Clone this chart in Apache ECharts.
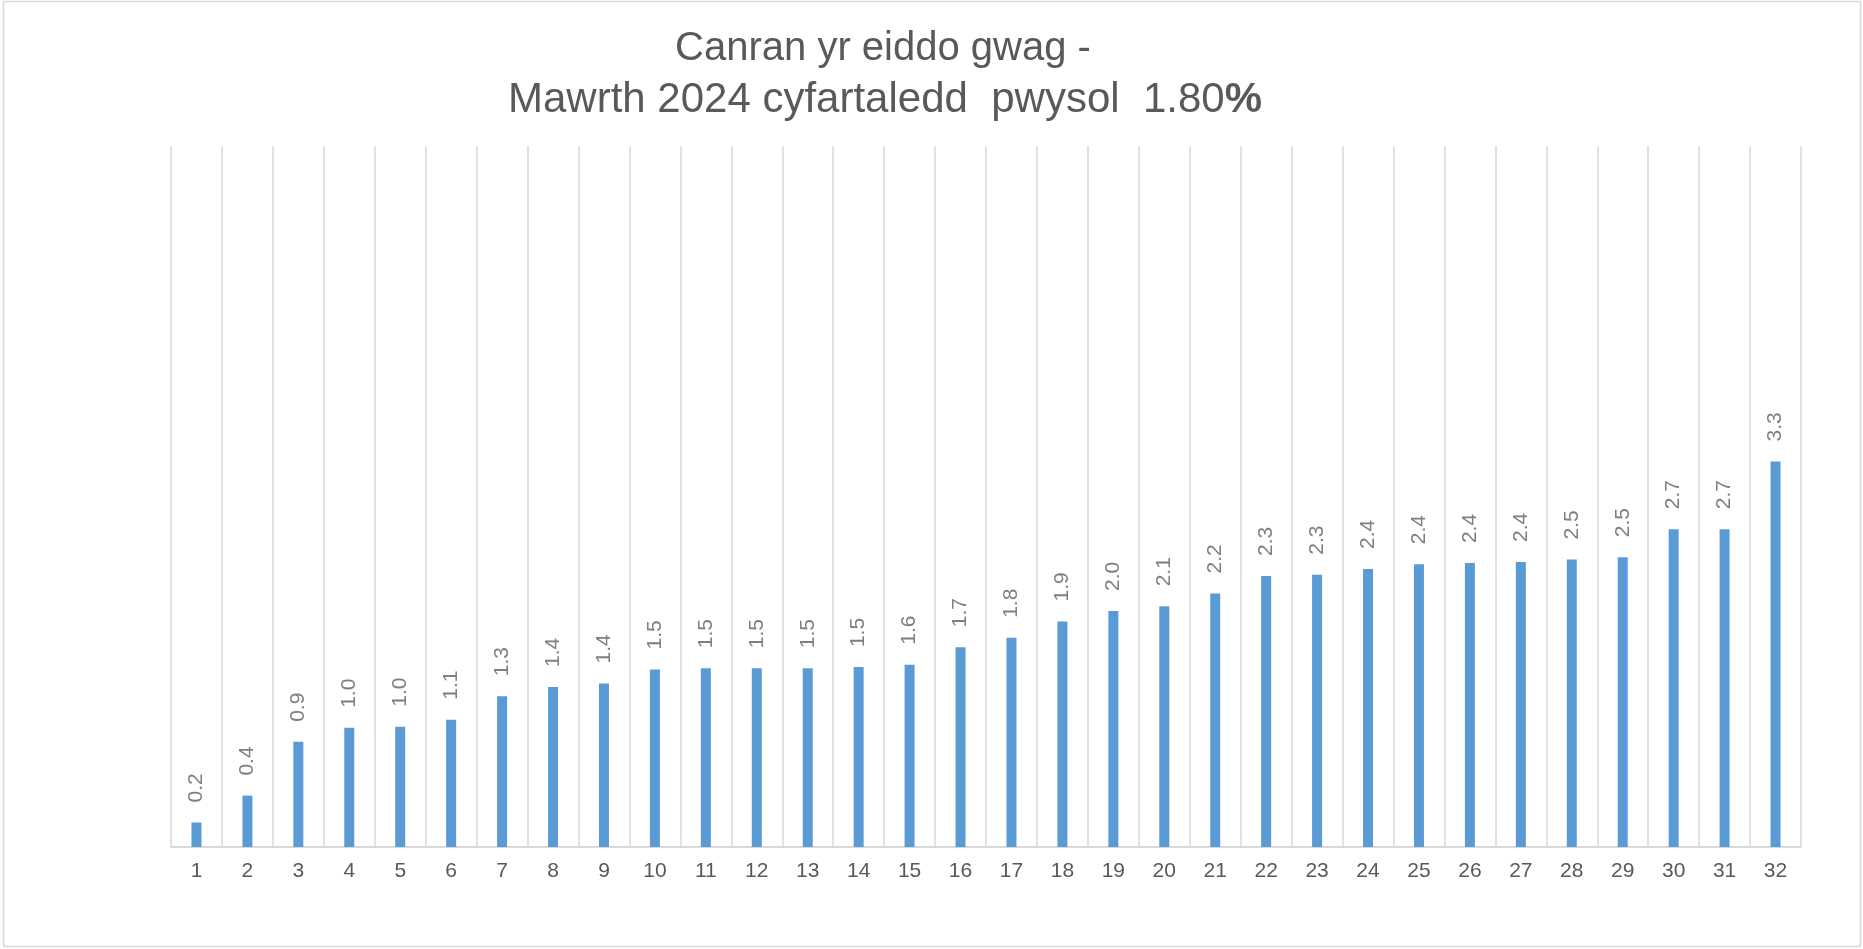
<!DOCTYPE html>
<html>
<head>
<meta charset="utf-8">
<script src="https://cdn.jsdelivr.net/npm/echarts@6/dist/echarts.min.js"></script>
<style>
  html, body { margin: 0; padding: 0; background: #fff; }
  #chart { width: 1863px; height: 949px; }
</style>
</head>
<body>
<div id="chart"></div>
<script>
// categories 1..32
const categories = ['1', '2', '3', '4', '5', '6', '7', '8', '9', '10', '11', '12', '13', '14', '15', '16',
  '17', '18', '19', '20', '21', '22', '23', '24', '25', '26', '27', '28', '29', '30', '31', '32'];
// vacant property percentage
const vacantPct = [0.21, 0.44, 0.90, 1.02, 1.03, 1.09, 1.29, 1.37, 1.40, 1.52, 1.53, 1.53, 1.53, 1.54, 1.56, 1.71,
  1.79, 1.93, 2.02, 2.06, 2.17, 2.32, 2.33, 2.38, 2.42, 2.43, 2.44, 2.46, 2.48, 2.72, 2.72, 3.30];
const titleLine1 = 'Canran yr eiddo gwag -';
const titleLine2 = 'Mawrth 2024 cyfartaledd  pwysol  1.80';

const font = "'Liberation Sans', Arial, sans-serif";
const chart = echarts.init(document.getElementById('chart'));

const option = {
  backgroundColor: '#fff',
  animation: false,
  graphic: [
    {
      type: 'rect',
      silent: true,
      shape: { x: 3.5, y: 1.5, width: 1857, height: 945 },
      style: { fill: 'none', stroke: '#d9d9d9', lineWidth: 1.5 }
    },
    // title, two lines centred a bit left of the chart centre
    {
      type: 'text',
      x: 883,
      y: 49,
      style: {
        text: titleLine1,
        align: 'center',
        verticalAlign: 'middle',
        fill: '#595959',
        font: '40px ' + font
      }
    },
    {
      type: 'text',
      x: 885,
      y: 100,
      style: {
        text: '{t|' + titleLine2 + '}{p|%}',
        align: 'center',
        verticalAlign: 'middle',
        rich: {
          t: { fill: '#595959', fontFamily: font, fontSize: 42 },
          p: { fill: '#595959', fontFamily: font, fontSize: 42, fontWeight: 'bold' }
        }
      }
    }
  ],
  grid: {
    left: 171,
    right: 62,
    top: 146,
    bottom: 102
  },
  xAxis: {
    type: 'category',
    data: categories,
    axisLine: { lineStyle: { color: '#d9d9d9', width: 2 } },
    axisTick: { show: false },
    splitLine: { show: true, lineStyle: { color: '#d9d9d9', width: 1.5 } },
    axisLabel: {
      color: '#595959',
      fontFamily: font,
      fontSize: 21,
      margin: 14
    }
  },
  yAxis: {
    type: 'value',
    min: 0,
    max: 6,
    show: false,
    splitLine: { show: false }
  },
  series: [{
    type: 'bar',
    data: vacantPct,
    barWidth: 10,
    itemStyle: { color: '#5b9bd5' },
    label: {
      show: true,
      position: 'top',
      rotate: 90,
      align: 'left',
      verticalAlign: 'middle',
      distance: 20,
      color: '#7f7f7f',
      fontFamily: font,
      fontSize: 21,
      formatter: p => p.value.toFixed(1)
    }
  }]
};

chart.setOption(option);
</script>
</body>
</html>
